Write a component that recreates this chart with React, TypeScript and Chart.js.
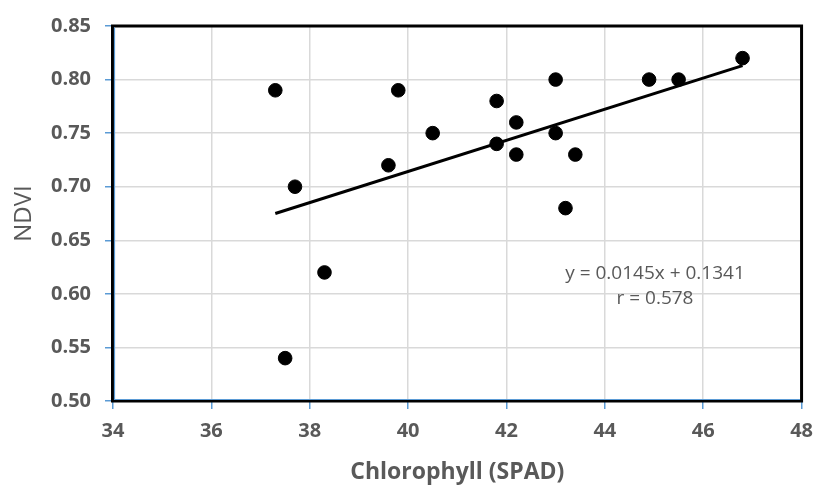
import React, { useEffect, useRef } from "react";
import { Chart, registerables } from "chart.js";

Chart.register(...registerables);

const chlorophyll = [37.3, 37.5, 37.7, 38.3, 39.6, 39.8, 40.5, 41.8, 41.8, 42.2, 42.2, 43.0, 43.0, 43.2, 43.4, 44.9, 45.5, 46.8];
const ndvi = [0.79, 0.54, 0.70, 0.62, 0.72, 0.79, 0.75, 0.78, 0.74, 0.76, 0.73, 0.80, 0.75, 0.68, 0.73, 0.80, 0.80, 0.82];
const trendX = [37.3, 46.8];
const trendY = [0.675, 0.813];
const equationLines = ["y = 0.0145x + 0.1341", "r = 0.578"];

const GRAY = "#595959";
const BLUE = "#5b9bd5";

export default function App() {
  const ref = useRef<HTMLCanvasElement | null>(null);

  useEffect(() => {
    if (!ref.current) return;
    const borderPlugin = {
      id: "borderPlugin",
      afterDraw(chart: any) {
        const { ctx, chartArea } = chart;
        const { left, right, top, bottom } = chartArea;
        ctx.save();
        ctx.strokeStyle = "#000000";
        ctx.lineWidth = 3;
        ctx.strokeRect(left - 0.5, top, right - left + 0.5, bottom - top);
        ctx.strokeStyle = BLUE;
        ctx.lineWidth = 1.2;
        ctx.beginPath();
        ctx.moveTo(left + 1.5, top + 1.5);
        ctx.lineTo(left + 1.5, bottom - 1.5);
        ctx.lineTo(right - 1.5, bottom - 1.5);
        ctx.stroke();
        ctx.fillStyle = GRAY;
        ctx.font = "19px 'Open Sans'";
        ctx.textAlign = "center";
        ctx.textBaseline = "middle";
        ctx.fillText(equationLines[0], 655, 274);
        ctx.fillText(equationLines[1], 655, 299);
        ctx.restore();
      },
    };

    const chart = new Chart(ref.current, {
      type: "scatter",
      data: {
        datasets: [
          {
            label: "NDVI",
            data: chlorophyll.map((x, i) => ({ x, y: ndvi[i] })),
            backgroundColor: "#000000",
            borderColor: "#000000",
            pointRadius: 6.8,
            pointHoverRadius: 6.8,
            order: 0,
          },
          {
            type: "line",
            label: "Trend",
            data: trendX.map((x, i) => ({ x, y: trendY[i] })),
            borderColor: "#000000",
            borderWidth: 3,
            pointRadius: 0,
            fill: false,
            order: 1,
          } as any,
        ],
      },
      options: {
        animation: false,
        responsive: true,
        maintainAspectRatio: false,
        layout: { padding: { left: 0, top: 22, right: 15, bottom: 0 } },
        plugins: {
          legend: { display: false },
          tooltip: { enabled: false },
        },
        scales: {
          x: {
            type: "linear",
            min: 34,
            max: 48,
            ticks: {
              stepSize: 2,
              color: GRAY,
              padding: 10,
              font: { family: "'Open Sans'", size: 20, weight: "bold" },
            },
            grid: { color: "#d9d9d9", lineWidth: 1.5, tickColor: BLUE, tickLength: 8, tickWidth: 1.5 },
            border: { display: false },
            title: {
              display: true,
              text: "Chlorophyll (SPAD)",
              color: GRAY,
              padding: { top: 3, bottom: 0 },
              font: { family: "'Open Sans'", size: 23, weight: "bold" },
            },
            afterFit: (s: any) => {
              s.height = 85;
            },
          },
          y: {
            type: "linear",
            min: 0.5,
            max: 0.85,
            ticks: {
              stepSize: 0.05,
              color: GRAY,
              padding: 14,
              font: { family: "'Open Sans'", size: 20, weight: "bold" },
              callback: (v: any) => Number(v).toFixed(2),
            },
            grid: { color: "#d9d9d9", lineWidth: 1.5, tickColor: BLUE, tickLength: 8, tickWidth: 1.5 },
            border: { display: false },
            title: {
              display: true,
              text: "NDVI",
              color: GRAY,
              padding: { top: 10, bottom: 0 },
              font: { family: "'Open Sans'", size: 24 },
            },
            afterFit: (s: any) => {
              s.width = 113;
            },
          },
        },
      },
      plugins: [borderPlugin],
    });
    return () => chart.destroy();
  }, []);

  return (
    <div style={{ position: "absolute", left: 0, top: 0, width: 823, height: 486, background: "#ffffff" }}>
      <canvas ref={ref} />
    </div>
  );
}
